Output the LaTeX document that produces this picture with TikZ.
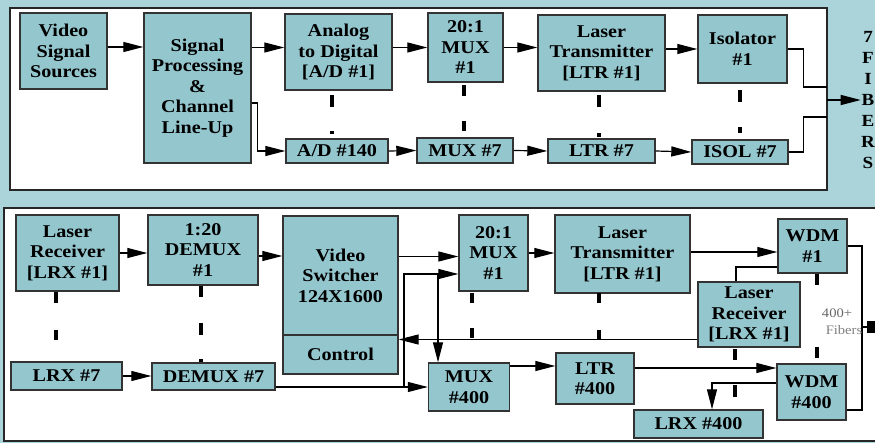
\documentclass[tikz,border=0pt]{standalone}
\usepackage{fontspec}
\setmainfont{Liberation Serif}[FakeStretch=1.12]
\usetikzlibrary{arrows.meta}
\definecolor{bgteal}{RGB}{170,212,218}
\definecolor{boxteal}{RGB}{148,198,206}

\begin{document}
\begin{tikzpicture}[x=1pt, y=-1pt, thick,
    blk/.style={draw=black!80, line width=1.4pt, fill=boxteal, inner sep=0pt,
        align=center, font=\bfseries\fontsize{18}{20.5}\selectfont},
    sz/.style 2 args={minimum width=#1pt, minimum height=#2pt},
    arr/.style={-{Triangle[length=20pt,width=10pt]}, line width=1.2pt},
    wire/.style={line width=1.2pt},
    vdots/.style={line width=4.5pt},
    panel/.style={draw=black!85, line width=1.4pt, fill=white}]
    % Background and panels
    \fill[bgteal] (0,0) rectangle (875,443);
    \useasboundingbox (0,0) rectangle (875,443);
    \draw[panel] (10,8) rectangle (827,190);
    \draw[panel] (4,208) rectangle (890,441);
    % Transmit side
    \node[blk, sz={87}{76}] (vss) at (63.5,51) {Video\\Signal\\Sources};
    \node[blk, sz={107}{150}] (spc) at (197.5,88) {Signal\\Processing\\\&\\Channel\\Line-Up};
    \node[blk, sz={107}{76}] (adc) at (338.5,52) {Analog\\to Digital\\{[A/D \#1]}};
    \node[blk, sz={102}{24}] (adl) at (337,151) {A/D \#140};
    \node[blk, sz={75}{69}] (mxa) at (465.5,47.5) {20:1\\MUX\\\#1};
    \node[blk, sz={96}{25}] (mxb) at (465,150.5) {MUX \#7};
    \node[blk, sz={127}{76}] (ltra) at (601.5,53) {Laser\\Transmitter\\{[LTR \#1]}};
    \node[blk, sz={107}{24}] (ltrb) at (601.5,151) {LTR \#7};
    \node[blk, sz={89}{68}] (isoa) at (742.5,49) {Isolator\\\#1};
    \node[blk, sz={96}{24}] (isob) at (740,152) {ISOL \#7};
    \draw[arr] ([yshift=4pt]vss.east) -- ([yshift=4pt]vss.east -| spc.west);
    \draw[arr] (spc.east |- mxa.west) -- (adc.west |- mxa.west);
    \draw[arr] (adc.east |- mxa.west) -- (mxa.west);
    \draw[arr] (mxa.east) -- (mxa.east -| ltra.west);
    \draw[arr] (ltra.east |- isoa.west) -- (isoa.west);
    \draw[arr] ([yshift=-15pt]spc.east) -- ++(6,0) |- (adl.west);
    \draw[arr] (adl.east) -- (mxb.west);
    \draw[arr] (mxb.east) -- (ltrb.west);
    \draw[arr] (ltrb.east) -- (isob.west);
    % Fibers out
    \coordinate (tja) at (827,87);
    \coordinate (tjb) at (827,117);
    \coordinate (tout) at (827,100);
    \draw[wire] (isoa.east) -- ++(16,0) |- (tja);
    \draw[wire] (isob.east) -- ++(15,0) |- (tjb);
    \node[font=\bfseries\fontsize{17}{21}\selectfont, align=center, inner sep=0pt] (fib) at (868,100) {7\\F\\I\\B\\E\\R\\S};
    \draw[arr] (tout) -- (fib.west |- tout);
    % Receive side
    \node[blk, sz={103}{76}] (lrxa) at (67.5,253) {Laser\\Receiver\\{[LRX \#1]}};
    \node[blk, sz={110}{70}] (dmxa) at (203,250) {1:20\\DEMUX\\\#1};
    \node[blk, sz={115}{119}] (vsw) at (340.5,275.5) {Video\\Switcher\\124X1600};
    \node[blk, sz={115}{39}] (ctl) at (340.5,354.5) {Control};
    \node[blk, sz={111}{28}] (lrxb) at (66.5,376) {LRX \#7};
    \node[blk, sz={123}{27}] (dmxb) at (213.5,376.5) {DEMUX \#7};
    \node[blk, sz={69}{76}] (mxc) at (493.5,253) {20:1\\MUX\\\#1};
    \node[blk, sz={135}{78}] (ltrc) at (622.5,254) {Laser\\Transmitter\\{[LTR \#1]}};
    \node[blk, sz={69}{54}] (wdma) at (812.5,246) {WDM\\\#1};
    \node[blk, sz={102}{65}] (lrxc) at (749,314.5) {Laser\\Receiver\\{[LRX \#1]}};
    \node[blk, sz={81}{48}] (mxd) at (469,387) {MUX\\\#400};
    \node[blk, sz={78}{51}] (ltrd) at (595,378.5) {LTR\\\#400};
    \node[blk, sz={69}{56}] (wdmb) at (811.5,392) {WDM\\\#400};
    \node[blk, sz={129}{28}] (lrxd) at (698.5,424) {LRX \#400};
    \draw[arr] (lrxa.east) -- (lrxa.east -| dmxa.west);
    \draw[arr] ([yshift=-6pt]dmxa.east) -- ([yshift=-6pt]dmxa.east -| vsw.west);
    \draw[arr] (lrxb.east) -- (lrxb.east -| dmxb.west);
    \draw[arr] ([yshift=19pt]vsw.east) -- ([yshift=19pt]vsw.east -| mxc.west);
    % DEMUX #7 feed
    \coordinate (dsp) at (404,387);
    \coordinate (dbr) at (438,274);
    \draw[arr] (dmxb.east |- mxd.west) -- (mxd.west);
    \draw[arr] (dsp) |- ([yshift=-21pt]mxc.west);
    \draw[arr] (dbr) -- (dbr |- mxd.north);
    \draw[arr] ([yshift=-25pt]lrxc.west) -- ([yshift=-25pt]lrxc.west -| ctl.east);
    \draw[arr] (mxc.east) -- (mxc.east -| ltrc.west);
    \draw[arr] ([yshift=-6pt]wdma.west -| ltrc.east) -- ([yshift=-6pt]wdma.west);
    \draw[arr] ([yshift=21pt]mxd.east) -- ([yshift=21pt]mxd.east -| ltrd.west);
    \draw[arr] ([yshift=24pt]wdmb.west -| ltrd.east) -- ([yshift=24pt]wdmb.west);
    \draw[wire] ([yshift=-21pt]wdma.west) -| ([xshift=-13pt]lrxc.north);
    \draw[arr] ([yshift=9pt]wdmb.west) -| ([xshift=13.5pt]lrxd.north);
    % Fiber bundle
    \coordinate (fbj) at (862,327);
    \draw[wire] (wdma.east) -| (fbj) |- ([yshift=-18pt]wdmb.east);
    \draw[wire] (fbj) -- ++(6,0);
    \fill (fbj) ++(5,-6) rectangle ++(10,12);
    % Ellipsis marks
    \foreach \x/\a/\b/\c/\d in {332/95/107/131/134, 464/85/96/121/131, 599/95/107/133/137,
        740/90/102/127/133, 56/292/303/330/340, 201/286/297/323/335, 472/293/303/328/338,
        599/293/303/330/340, 735/349/360/385/397, 817/274/285/347/358}
        \draw[vdots] (\x,\a) -- (\x,\b) (\x,\c) -- (\x,\d);
    \draw[vdots] (201,359) -- (201,362);
    \node[font=\mdseries\fontsize{13}{17}\selectfont, text=black!60, inner sep=0pt] (fbn) at (837,313) {400+};
    \node[font=\mdseries\fontsize{13}{17}\selectfont, text=black!50, inner sep=0pt] (fbs) at (844,330) {Fibers};
\end{tikzpicture}
\end{document}
